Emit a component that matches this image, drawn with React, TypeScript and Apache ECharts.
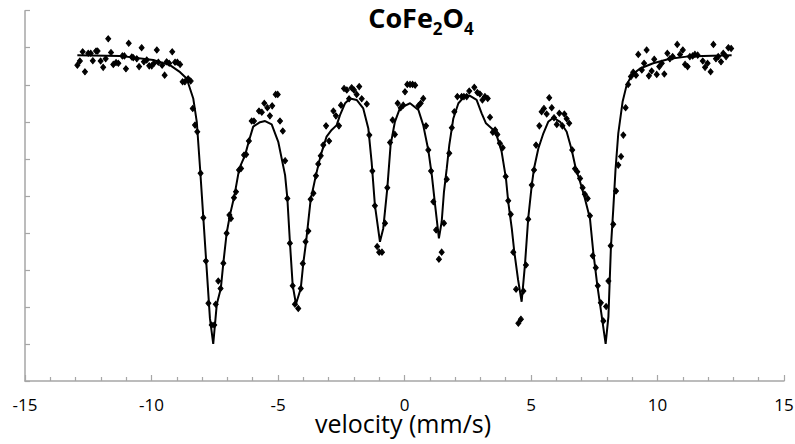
import React, { useEffect, useRef } from "react";
import * as echarts from "echarts";

// Measured spectrum: velocity (mm/s) and relative counts (arbitrary units, axis 0..100)
const measVelocity = [
  -12.93, -12.83, -12.72, -12.63, -12.5, -12.4, -12.32, -12.19, -12.13, -12.01,
  -11.91, -11.81, -11.71, -11.6, -11.51, -11.4, -11.31, -11.15, -11.07, -11.01,
  -10.9, -10.78, -10.72, -10.58, -10.49, -10.39, -10.3, -10.19, -10.09, -9.99,
  -9.9, -9.79, -9.73, -9.58, -9.48, -9.4, -9.3, -9.18, -9.07, -8.98, -8.87,
  -8.77, -8.68, -8.55, -8.45, -8.37, -8.28, -8.19, -8.06, -7.95, -7.85,
  -7.75, -7.62, -7.52, -7.46, -7.36, -7.27, -7.16, -7.03, -6.92, -6.86,
  -6.74, -6.66, -6.54, -6.46, -6.34, -6.26, -6.15, -6.04, -5.95, -5.75,
  -5.64, -5.54, -5.42, -5.32, -5.23, -5.09, -5.01, -4.92, -4.81, -4.72,
  -4.63, -4.53, -4.42, -4.33,
  -4.2, -4.1, -4.02, -3.91, -3.8, -3.71, -3.6, -3.5, -3.41, -3.31,
  -3.21, -3.1, -2.98, -2.81, -2.71, -2.59, -2.51, -2.39, -2.28, -2.19,
  -2.09, -2.0, -1.89, -1.79, -1.69, -1.49, -1.39, -1.27, -1.17, -1.08,
  -1.0, -0.89, -0.77, -0.68, -0.57, -0.47, -0.38, -0.27, -0.15, -0.05, 0.02,
  0.11, 0.22, 0.32, 0.42, 0.55, 0.64, 0.74, 0.85, 0.94, 1.05,
  1.14, 1.25, 1.36, 1.47, 1.56, 1.67, 1.77, 1.87, 1.97, 2.09,
  2.26, 2.35, 2.46, 2.56, 2.76, 2.88, 2.98, 3.08, 3.18, 3.29,
  3.38, 3.49, 3.58, 3.67, 3.77, 3.88, 4.0, 4.1, 4.2, 4.3,
  4.41, 4.5, 4.6, 4.7, 4.8, 4.89, 5.03, 5.12, 5.2, 5.33,
  5.42, 5.51, 5.62, 5.72, 5.82, 5.91, 6.02, 6.12, 6.24, 6.32,
  6.41, 6.51, 6.63, 6.74, 6.83, 6.94, 7.04, 7.13, 7.24, 7.33,
  7.44, 7.56, 7.64, 7.76, 7.86, 7.97, 8.06, 8.15, 8.25, 8.36,
  8.45, 8.56, 8.65,
  8.74, 8.84, 8.95, 9.04, 9.15, 9.24, 9.38, 9.47, 9.57, 9.66,
  9.77, 9.87, 9.97, 10.07, 10.17, 10.27, 10.39, 10.49, 10.6, 10.78,
  10.89, 11.0, 11.09, 11.19, 11.28, 11.39, 11.48, 11.59, 11.79, 11.88,
  11.98, 12.1, 12.21, 12.31, 12.4, 12.51, 12.6, 12.71, 12.8, 12.91,
];
const measCounts = [
  85.3, 86.4, 88.9, 83.5, 88.5, 88.5, 86.5, 89.1, 89.1, 86.4,
  84.7, 87.0, 92.4, 88.7, 85.5, 86.0, 85.8, 87.8, 87.8, 84.3,
  91.2, 87.5, 87.3, 87.0, 84.9, 90.0, 86.2, 86.7, 85.1, 85.1,
  85.8, 89.4, 86.1, 85.3, 82.6, 86.2, 85.8, 88.9, 86.1, 86.1, 85.5,
  80.8, 80.8, 81.6, 81.0, 73.6, 69.1, 67.3, 56.1, 44.1, 32.4,
  21.0, 15.1, 15.1, 20.7, 27.0, 25.0, 31.8, 39.9, 44.8, 43.9,
  49.5, 51.1, 57.0, 57.4, 61.0, 61.2, 64.8, 70.2, 70.2, 72.9,
  72.6, 75.0, 73.8, 71.6, 74.3, 77.4, 77.4, 70.2, 67.5, 59.5,
  49.3, 37.2, 25.7, 20.7,
  19.6, 25.0, 31.7, 37.6, 40.5, 49.1, 50.7, 55.4, 58.6, 60.8,
  63.7, 68.9, 64.8, 72.9, 71.6, 68.9, 74.5, 79.0, 78.6, 76.2,
  79.2, 78.6, 77.4, 79.5, 76.2, 74.8, 66.4, 56.7, 47.3, 36.3,
  34.8, 34.8, 42.6, 52.2, 64.4, 70.5, 66.6, 75.0, 73.8, 74.5, 78.1,
  80.1, 80.1, 80.1, 79.9, 74.3, 75.0, 76.3, 68.9, 62.4, 56.7,
  48.4, 40.8, 32.9, 34.8, 42.6, 54.5, 61.5, 68.4, 72.7, 76.8,
  76.8, 76.8, 76.8, 78.3, 79.3, 77.9, 77.5, 75.9, 76.8, 76.3,
  71.2, 67.2, 67.8, 66.6, 64.2, 63.0, 55.2, 48.7, 45.0, 34.8,
  24.8, 15.6, 16.7, 24.3, 31.3, 43.7, 52.9, 57.0, 63.7, 68.9,
  72.7, 73.6, 72.1, 76.5, 73.8, 71.1, 69.3, 72.3, 68.9, 72.1,
  70.8, 69.6, 62.4, 57.3, 56.5, 54.7, 52.2, 50.4, 49.3, 44.6,
  33.8, 30.6, 25.7, 21.1, 16.2, 20.1, 27.0, 36.5, 42.3, 51.3,
  58.3, 60.6, 66.4,
  73.8, 80.1, 82.2, 83.4, 82.6, 88.2, 84.0, 85.8, 89.4, 82.4,
  83.7, 86.9, 82.8, 84.9, 85.8, 82.9, 88.5, 87.0, 87.6, 90.9,
  88.2, 89.4, 85.5, 84.9, 87.6, 87.8, 88.2, 88.0, 86.4, 84.7,
  85.8, 83.5, 90.9, 87.0, 87.6, 86.2, 88.5, 87.6, 90.0, 89.8,
];

// Fitted sextet curve
const fitVelocity = [
  -12.93, -11.25, -9.93, -9.27, -8.87, -8.61, -8.35, -8.21, -8.08, -7.95,
  -7.82, -7.69, -7.56, -7.42, -7.26, -7.16, -7.03, -6.9, -6.73, -6.53,
  -6.3, -6.15, -5.98, -5.71, -5.51, -5.25, -4.99, -4.72, -4.63, -4.53,
  -4.42, -4.29, -4.1, -4.0, -3.89, -3.71, -3.5, -3.31, -3.08, -2.88,
  -2.68, -2.55, -2.35, -2.15, -1.89, -1.63, -1.43, -1.3, -1.17, -0.97,
  -0.84, -0.68, -0.55, -0.38, -0.18, 0.22, 0.55, 0.74, 0.94, 1.08,
  1.21, 1.36, 1.47, 1.56, 1.67, 1.77, 1.93, 2.13, 2.39, 2.59,
  2.85, 3.05, 3.22, 3.45, 3.64, 3.84, 4.01, 4.1, 4.24, 4.34,
  4.49, 4.63, 4.76, 4.89, 5.03, 5.12, 5.29, 5.49, 5.68, 5.88,
  6.15, 6.41, 6.61, 6.77, 6.94, 7.13, 7.33, 7.46, 7.62, 7.79,
  7.95, 8.06, 8.16, 8.25, 8.34, 8.45, 8.62, 8.78, 8.98, 9.31,
  9.83, 10.49, 11.15, 11.81, 12.93,
];
const fitCounts = [
  88.0, 87.8, 86.7, 85.3, 83.4, 81.7, 76.3, 70.0, 57.4, 43.9,
  30.4, 16.9, 10.0, 20.7, 25.0, 31.9, 39.9, 44.8, 49.8, 57.4,
  61.0, 64.8, 68.7, 69.9, 70.2, 69.3, 64.6, 55.6, 49.3, 37.6,
  25.9, 20.8, 25.0, 31.8, 37.6, 48.9, 55.6, 61.0, 66.0, 67.8,
  69.1, 71.8, 75.0, 76.3, 75.9, 73.6, 68.2, 59.2, 47.5, 37.6,
  41.2, 52.0, 63.7, 70.0, 73.7, 75.0, 73.2, 69.1, 62.4, 55.6,
  47.5, 38.5, 43.0, 51.1, 57.4, 63.7, 70.9, 75.0, 77.0, 77.0,
  75.9, 72.3, 69.6, 68.2, 66.4, 61.9, 54.7, 48.4, 41.2, 34.9,
  27.3, 21.4, 31.3, 43.9, 52.9, 57.4, 62.8, 66.9, 70.0, 71.1,
  70.0, 67.3, 62.4, 57.4, 53.8, 49.3, 43.9, 34.9, 25.9, 17.8,
  10.0, 17.4, 36.3, 46.2, 57.0, 66.9, 75.4, 79.9, 82.6, 84.4,
  85.8, 87.0, 87.6, 87.8, 88.0,
];

const titleParts = ["CoFe", "2", "O", "4"];
const xAxisTitle = "velocity (mm/s)";

export default function App() {
  const ref = useRef<HTMLDivElement>(null);
  useEffect(() => {
    if (!ref.current) return;
    const chart = echarts.init(ref.current, undefined, { renderer: "svg", width: 795, height: 444 });
    const font = "'Open Sans', Calibri, sans-serif";
    const axisGrey = "#a6a6a6";
    chart.setOption({
      animation: false,
      textStyle: { fontFamily: font },
      grid: { left: 25, right: 11, top: 10.7, bottom: 63, containLabel: false, outerBoundsMode: "none" },
      graphic: [
        {
          type: "text",
          x: 421,
          y: -2.9,
          style: {
            text: `{a|${titleParts[0]}}{s|${titleParts[1]}}{a|${titleParts[2]}}{s|${titleParts[3]}}`,
            align: "center",
            verticalAlign: "top",
            fill: "#000",
            rich: {
              a: { fontFamily: font, fontWeight: "bold", fontSize: 27, lineHeight: 40, fill: "#000", verticalAlign: "middle" },
              s: { fontFamily: font, fontWeight: "bold", fontSize: 17, lineHeight: 17, fill: "#000", verticalAlign: "bottom" },
            },
          },
        },
        {
          type: "text",
          x: 403,
          y: 423,
          style: { text: xAxisTitle, align: "center", verticalAlign: "middle", fontFamily: font, fontSize: 25, fill: "#000" },
        },
      ],
      xAxis: {
        type: "value",
        min: -15,
        max: 15,
        interval: 5,
        axisLine: { show: true, onZero: false, lineStyle: { color: axisGrey, width: 1.5 } },
        axisTick: { show: true, inside: true, length: 6, lineStyle: { color: axisGrey, width: 1.2 } },
        minorTick: { show: true, splitNumber: 5, length: 4, lineStyle: { color: axisGrey, width: 1.2 } },
        axisLabel: { fontFamily: font, fontSize: 17, lineHeight: 8, color: "#000", margin: 19.5 },
        splitLine: { show: false },
      },
      yAxis: {
        type: "value",
        min: 0,
        max: 100,
        interval: 10,
        axisLine: { show: true, onZero: false, lineStyle: { color: axisGrey, width: 1.5 } },
        axisTick: { show: true, inside: true, length: 5, lineStyle: { color: axisGrey, width: 1.2 } },
        axisLabel: { show: false },
        splitLine: { show: false },
      },
      series: [
        {
          type: "scatter",
          name: "measured",
          data: measVelocity.map((v, i) => [v, measCounts[i]]),
          symbol: "diamond",
          symbolSize: [5, 6],
          itemStyle: { color: "#000", borderColor: "#000", borderWidth: 1, opacity: 1 },
          silent: true,
          z: 2,
        },
        {
          type: "line",
          name: "fit",
          data: fitVelocity.map((v, i) => [v, fitCounts[i]]),
          showSymbol: false,
          symbol: "none",
          smooth: false,
          lineStyle: { color: "#000", width: 2 },
          silent: true,
          z: 3,
        },
      ],
    });
    return () => chart.dispose();
  }, []);
  return <div ref={ref} style={{ width: 795, height: 444, position: "absolute", left: 0, top: 0 }} />;
}
